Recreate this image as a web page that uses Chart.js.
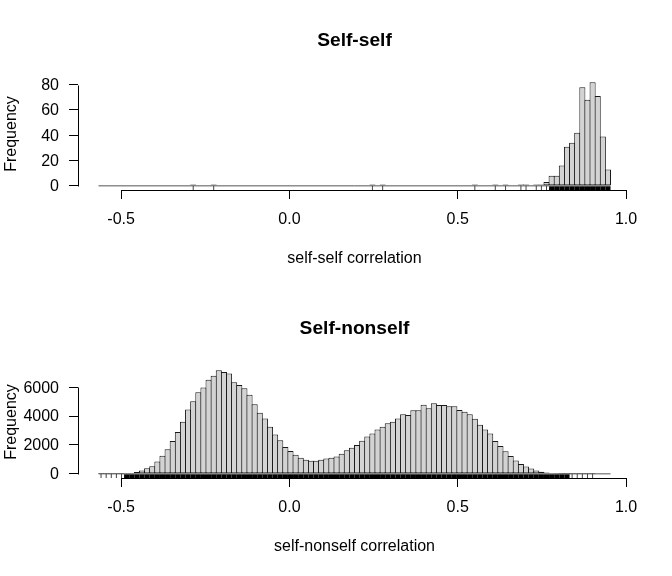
<!DOCTYPE html>
<html>
<head>
<meta charset="utf-8">
<script src="https://cdn.jsdelivr.net/npm/chart.js@4.4.1/dist/chart.umd.min.js"></script>
<style>
  body { margin: 0; background: #fff; }
  canvas { display: block; }
</style>
</head>
<body>
<canvas id="selfChart" width="672" height="288"></canvas>
<canvas id="nonselfChart" width="672" height="288"></canvas>
<script>
// histogram breaks: 100 equal bins
var binStart = -0.5673;
var binWidth = 0.015213;

var selfCounts = [
  0, 0, 0, 0, 0, 0, 0, 0, 0, 0,
  0, 0, 0, 0, 0, 0, 0, 0, 1, 0,
  0, 0, 1, 0, 0, 0, 0, 0, 0, 0,
  0, 0, 0, 0, 0, 0, 0, 0, 0, 0,
  0, 0, 0, 0, 0, 0, 0, 0, 0, 0,
  0, 0, 0, 1, 0, 1, 0, 0, 0, 0,
  0, 0, 0, 0, 0, 0, 0, 0, 0, 0,
  0, 0, 0, 1, 0, 0, 0, 1, 0, 1,
  0, 0, 1, 1, 0, 1, 1, 3, 8, 8,
  16, 31, 34, 42, 78, 68, 82, 71, 39, 13
];

var nonselfCounts = [
  1, 1, 2, 3, 5, 20, 60, 130, 230, 380,
  530, 860, 1260, 1700, 2280, 2900, 3600, 4460, 5020, 5650,
  5980, 6510, 6790, 7180, 7050, 6950, 6350, 6160, 5930, 5470,
  4820, 4230, 3840, 3260, 2720, 2330, 1860, 1580, 1330, 1120,
  980, 910, 910, 980, 1070, 1120, 1210, 1400, 1630, 1810,
  2000, 2300, 2580, 2790, 3070, 3260, 3510, 3600, 3840, 4120,
  4070, 4400, 4400, 4790, 4540, 4890, 4770, 4770, 4680, 4680,
  4420, 4300, 4120, 3820, 3400, 3070, 2790, 2280, 1930, 1560,
  1230, 930, 680, 510, 370, 230, 140, 90, 47, 25,
  12, 6, 3, 2, 1, 1, 1, 0, 0, 0
];

var xTickValues = [-0.5, 0, 0.5, 1];
var xTickLabels = ['-0.5', '0.0', '0.5', '1.0'];
var selfYTicks = [0, 20, 40, 60, 80];
var nonselfYTicks = [0, 2000, 4000, 6000];

Chart.defaults.font.family = '"Liberation Sans", Arial, Helvetica, sans-serif';
Chart.defaults.font.size = 16;
Chart.defaults.color = '#000';

// R-style axes: lines only over the tick range, plus the main title
var rStyleAxes = {
  id: 'rStyleAxes',
  afterDraw: function (chart, args, opts) {
    var ctx = chart.ctx;
    var area = chart.chartArea;
    var xs = chart.scales.x;
    var ys = chart.scales.y;
    var yb = Math.round(area.bottom) + 0.5;
    var xl = Math.round(area.left) + 0.5;

    ctx.save();
    ctx.strokeStyle = '#000';
    ctx.lineWidth = 1;
    ctx.beginPath();
    ctx.moveTo(Math.round(xs.getPixelForValue(xTickValues[0])) + 0.5, yb);
    ctx.lineTo(Math.round(xs.getPixelForValue(xTickValues[xTickValues.length - 1])) + 0.5, yb);
    ctx.moveTo(xl, Math.round(ys.getPixelForValue(opts.yTicks[0])) + 0.5);
    ctx.lineTo(xl, Math.round(ys.getPixelForValue(opts.yTicks[opts.yTicks.length - 1])) + 0.5);
    ctx.stroke();

    ctx.fillStyle = '#000';
    ctx.font = 'bold 19.2px "Liberation Sans", Arial, Helvetica, sans-serif';
    ctx.textAlign = 'center';
    ctx.textBaseline = 'middle';
    ctx.fillText(opts.title, (area.left + area.right) / 2, 41);
    ctx.restore();
  }
};

function buildHist(canvasId, counts, yTicks, mainTitle, xTitle) {
  var maxCount = Math.max.apply(null, counts);
  var yMin = -0.04 * maxCount;
  var yMax = 1.04 * maxCount;
  var binEnd = binStart + binWidth * counts.length;
  var span = binEnd - binStart;

  var bars = [];
  var rugDense = [];
  var rugSparse = [];
  counts.forEach(function (c, i) {
    var cx = binStart + binWidth * (i + 0.5);
    bars.push({x: cx, y: c});
    if (c > 5) {
      rugDense.push({x: cx, y: [yMin, 0]});
    } else if (c > 0) {
      rugSparse.push({x: cx, y: yMin / 2});
    }
  });

  return new Chart(document.getElementById(canvasId), {
    type: 'bar',
    data: {
      datasets: [{
        type: 'line',
        data: [{x: binStart, y: 0}, {x: binEnd, y: 0}],
        borderColor: '#555',
        borderWidth: 1,
        pointRadius: 0,
        order: 2
      }, {
        data: bars,
        stack: 'h',
        backgroundColor: '#d3d3d3',
        borderColor: '#1a1a1a',
        borderWidth: 1,
        borderSkipped: false,
        inflateAmount: 0,
        barPercentage: 1.19,   // neighbours share one edge line, like R's rect()
        categoryPercentage: 1,
        order: 1
      }, {
        data: rugDense,
        stack: 'h',
        backgroundColor: '#000',
        borderWidth: 0,
        inflateAmount: 0,
        barPercentage: 1,
        categoryPercentage: 1,
        order: 0
      }, {
        type: 'line',
        data: rugSparse,
        showLine: false,
        pointStyle: 'line',
        rotation: 90,
        pointRadius: 2.3,
        pointBorderWidth: 1,
        pointBorderColor: '#444',
        order: 0
      }]
    },
    options: {
      responsive: false,
      animation: false,
      events: [],
      layout: {
        autoPadding: false,
        padding: {left: 0, right: 41, top: 78, bottom: 0}
      },
      plugins: {
        legend: {display: false},
        tooltip: {enabled: false},
        rStyleAxes: {title: mainTitle, yTicks: yTicks}
      },
      scales: {
        x: {
          type: 'linear',
          offset: false,
          min: binStart - 0.04 * span,
          max: binEnd + 0.04 * span,
          afterBuildTicks: function (scale) {
            scale.ticks = xTickValues.map(function (v) { return {value: v}; });
          },
          afterFit: function (scale) { scale.height = 98; },
          ticks: {
            autoSkip: false,
            maxRotation: 0,
            padding: 11,
            callback: function (value, index) { return xTickLabels[index]; }
          },
          grid: {offset: false, drawOnChartArea: false, drawTicks: true, tickLength: 9, color: '#000'},
          border: {display: false},
          title: {display: true, text: xTitle, padding: {top: 0, bottom: 20}}
        },
        y: {
          stacked: false,
          min: yMin,
          max: yMax,
          afterBuildTicks: function (scale) {
            scale.ticks = yTicks.map(function (v) { return {value: v}; });
          },
          afterFit: function (scale) { scale.width = 78; },
          ticks: {
            autoSkip: false,
            padding: 10,
            labelOffset: 1,
            callback: function (value) { return String(value); }
          },
          grid: {offset: false, drawOnChartArea: false, drawTicks: true, tickLength: 9, color: '#000'},
          border: {display: false},
          title: {display: true, text: 'Frequency', padding: {top: 2, bottom: 0}}
        }
      }
    },
    plugins: [rStyleAxes]
  });
}

buildHist('selfChart', selfCounts, selfYTicks, 'Self-self', 'self-self correlation');
buildHist('nonselfChart', nonselfCounts, nonselfYTicks, 'Self-nonself', 'self-nonself correlation');
</script>
</body>
</html>
